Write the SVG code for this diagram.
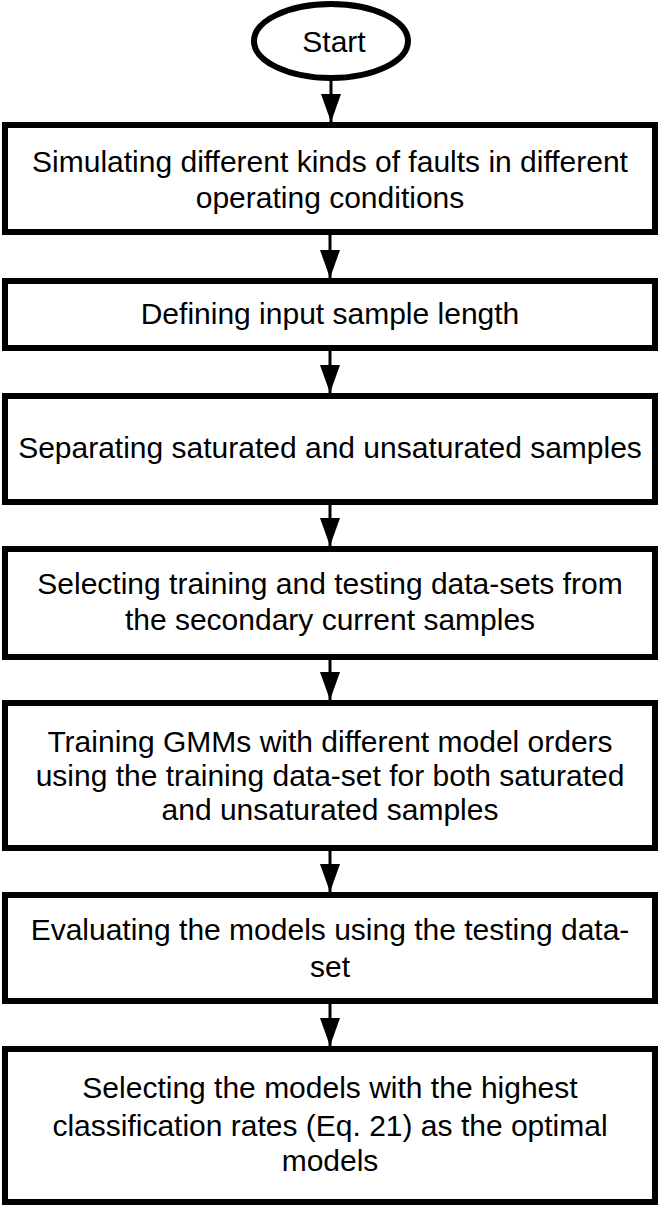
<svg xmlns="http://www.w3.org/2000/svg" width="660" height="1206" viewBox="0 0 660 1206">
<style>
.box{fill:#fff;stroke:#000;stroke-width:6}
.t{font-family:"Liberation Sans",Arial,sans-serif;font-size:30px;fill:#000;text-anchor:middle}
.c{stroke:#000;stroke-width:3;fill:none}
</style>
<defs>
<marker id="ah" markerUnits="userSpaceOnUse" markerWidth="28" markerHeight="20" refX="28" refY="10" orient="auto">
<path d="M0,0 L28,10 L0,20 Z" fill="#000"/>
</marker>
</defs>
<rect width="660" height="1206" fill="#fff"/>
<g id="connectors">
<line class="c" x1="331" y1="78" x2="331" y2="122" marker-end="url(#ah)"/>
<line class="c" x1="330" y1="235" x2="330" y2="278" marker-end="url(#ah)"/>
<line class="c" x1="330" y1="351" x2="330" y2="393" marker-end="url(#ah)"/>
<line class="c" x1="330" y1="505" x2="330" y2="546" marker-end="url(#ah)"/>
<line class="c" x1="330" y1="660" x2="330" y2="700" marker-end="url(#ah)"/>
<line class="c" x1="330" y1="851" x2="330" y2="892" marker-end="url(#ah)"/>
<line class="c" x1="330" y1="1004" x2="330" y2="1046" marker-end="url(#ah)"/>
</g>
<g id="start">
<ellipse class="box" cx="331" cy="41" rx="77" ry="37"/>
<text class="t" x="334" y="52">Start</text>
</g>
<g id="n1">
<rect class="box" x="5" y="125" width="650" height="107"/>
<text class="t" x="330" y="172">Simulating different kinds of faults in different</text>
<text class="t" x="330" y="208">operating conditions</text>
</g>
<g id="n2">
<rect class="box" x="5" y="281" width="650" height="67"/>
<text class="t" x="330" y="324">Defining input sample length</text>
</g>
<g id="n3">
<rect class="box" x="5" y="396" width="650" height="106"/>
<text class="t" x="330" y="458">Separating saturated and unsaturated samples</text>
</g>
<g id="n4">
<rect class="box" x="5" y="549" width="650" height="108"/>
<text class="t" x="330" y="594">Selecting training and testing data-sets from</text>
<text class="t" x="330" y="630">the secondary current samples</text>
</g>
<g id="n5">
<rect class="box" x="5" y="703" width="650" height="145"/>
<text class="t" x="330" y="752">Training GMMs with different model orders</text>
<text class="t" x="330" y="786">using the training data-set for both saturated</text>
<text class="t" x="330" y="820">and unsaturated samples</text>
</g>
<g id="n6">
<rect class="box" x="5" y="895" width="650" height="106"/>
<text class="t" x="330" y="940">Evaluating the models using the testing data-</text>
<text class="t" x="330" y="977">set</text>
</g>
<g id="n7">
<rect class="box" x="5" y="1049" width="650" height="153"/>
<text class="t" x="330" y="1098">Selecting the models with the highest</text>
<text class="t" x="330" y="1136">classification rates (Eq. 21) as the optimal</text>
<text class="t" x="330" y="1171">models</text>
</g>
</svg>
